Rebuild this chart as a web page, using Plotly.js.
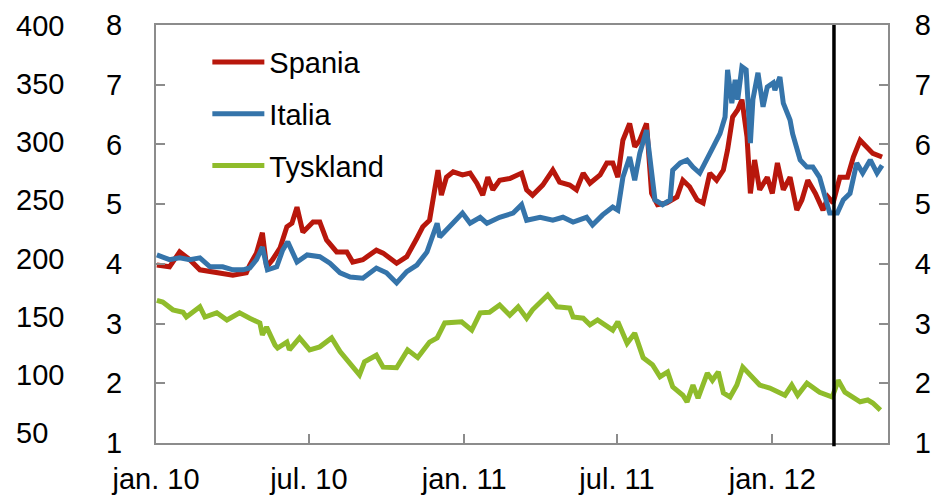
<!DOCTYPE html>
<html>
<head>
<meta charset="utf-8">
<script src="https://cdn.plot.ly/plotly-3.0.1.min.js"></script>
<style>html,body{margin:0;padding:0;background:#fff;}#chart{width:934px;height:497px;}</style>
</head>
<body>
<div id="chart"></div>
<script>
// ---- Data (10-year yields, percent) ----
const spaniaDates = ["2010-01-02","2010-01-17","2010-01-29","2010-02-10","2010-02-22","2010-03-06","2010-03-21","2010-04-02","2010-04-18","2010-04-22","2010-04-30","2010-05-07","2010-05-12","2010-05-19","2010-05-28","2010-06-05","2010-06-11","2010-06-17","2010-06-24","2010-07-06","2010-07-14","2010-07-22","2010-08-03","2010-08-15","2010-08-22","2010-09-03","2010-09-19","2010-09-27","2010-10-13","2010-10-25","2010-11-06","2010-11-13","2010-11-21","2010-11-27","2010-12-01","2010-12-05","2010-12-11","2010-12-19","2010-12-30","2011-01-08","2011-01-16","2011-01-23","2011-01-29","2011-02-04","2011-02-12","2011-02-24","2011-03-10","2011-03-16","2011-03-23","2011-04-04","2011-04-16","2011-04-24","2011-05-06","2011-05-14","2011-05-22","2011-05-30","2011-06-11","2011-06-19","2011-06-26","2011-07-02","2011-07-08","2011-07-16","2011-07-22","2011-07-28","2011-08-05","2011-08-11","2011-08-18","2011-08-29","2011-09-10","2011-09-17","2011-09-25","2011-10-04","2011-10-11","2011-10-19","2011-10-27","2011-11-04","2011-11-09","2011-11-15","2011-11-21","2011-11-26","2011-12-02","2011-12-06","2011-12-11","2011-12-17","2011-12-26","2012-01-01","2012-01-07","2012-01-14","2012-01-22","2012-01-30","2012-02-05","2012-02-12","2012-02-21","2012-03-01","2012-03-07","2012-03-13","2012-03-21","2012-03-30","2012-04-06","2012-04-14","2012-04-22","2012-04-29","2012-05-10"];
const spaniaValues = [3.98,3.95,4.20,4.07,3.90,3.87,3.85,3.81,3.85,3.98,4.18,4.52,3.95,4.07,4.27,4.62,4.68,4.95,4.53,4.70,4.70,4.40,4.20,4.20,4.03,4.07,4.23,4.18,4.01,4.12,4.43,4.62,4.73,5.18,5.57,5.15,5.45,5.54,5.49,5.52,5.35,5.15,5.45,5.24,5.40,5.43,5.52,5.24,5.15,5.32,5.57,5.37,5.32,5.24,5.52,5.35,5.49,5.69,5.69,5.45,6.07,6.35,5.96,6.07,6.35,5.18,4.99,5.02,5.12,5.40,5.29,5.07,5.02,5.52,5.40,5.57,5.91,6.46,6.58,6.75,6.13,5.18,5.74,5.24,5.45,5.18,5.69,5.24,5.45,4.90,5.07,5.40,5.18,4.90,5.12,5.02,5.45,5.45,5.79,6.07,5.96,5.85,5.79];

const italiaDates = ["2010-01-02","2010-01-17","2010-01-29","2010-02-10","2010-02-22","2010-03-06","2010-03-21","2010-04-02","2010-04-14","2010-04-22","2010-04-30","2010-05-07","2010-05-13","2010-05-24","2010-05-31","2010-06-06","2010-06-17","2010-06-29","2010-07-14","2010-07-26","2010-08-07","2010-08-19","2010-09-03","2010-09-19","2010-10-01","2010-10-13","2010-10-25","2010-11-06","2010-11-18","2010-11-30","2010-12-03","2010-12-15","2010-12-30","2011-01-08","2011-01-20","2011-01-28","2011-02-12","2011-02-28","2011-03-10","2011-03-16","2011-04-01","2011-04-16","2011-04-28","2011-05-10","2011-05-26","2011-06-02","2011-06-14","2011-06-26","2011-07-02","2011-07-08","2011-07-16","2011-07-22","2011-07-28","2011-08-05","2011-08-09","2011-08-15","2011-08-24","2011-09-02","2011-09-05","2011-09-14","2011-09-22","2011-09-29","2011-10-07","2011-10-16","2011-10-23","2011-10-31","2011-11-06","2011-11-09","2011-11-14","2011-11-18","2011-11-21","2011-11-26","2011-12-01","2011-12-06","2011-12-09","2011-12-15","2011-12-21","2011-12-26","2012-01-02","2012-01-04","2012-01-10","2012-01-14","2012-01-22","2012-01-25","2012-02-03","2012-02-11","2012-02-18","2012-02-26","2012-03-03","2012-03-09","2012-03-18","2012-03-25","2012-04-02","2012-04-10","2012-04-17","2012-04-26","2012-05-04","2012-05-10"];
const italiaValues = [4.15,4.07,4.10,4.07,4.10,3.95,3.95,3.90,3.90,3.93,4.07,4.28,3.90,3.95,4.23,4.37,4.03,4.15,4.12,4.01,3.85,3.78,3.76,3.93,3.85,3.68,3.87,3.98,4.20,4.68,4.45,4.62,4.85,4.68,4.78,4.68,4.78,4.85,4.99,4.73,4.78,4.73,4.78,4.70,4.78,4.65,4.82,4.95,4.90,5.45,5.79,5.40,5.85,6.24,5.74,5.07,4.99,5.07,5.57,5.69,5.74,5.62,5.52,5.79,5.96,6.18,6.46,7.25,6.69,7.08,6.75,7.30,7.25,6.02,6.75,7.20,6.63,6.96,7.03,6.91,7.13,6.69,6.41,6.18,5.74,5.62,5.62,5.45,5.12,4.85,4.85,5.07,5.18,5.69,5.52,5.74,5.52,5.65];

const tysklandDates = ["2010-01-02","2010-01-09","2010-01-21","2010-02-02","2010-02-06","2010-02-22","2010-02-28","2010-03-14","2010-03-26","2010-04-10","2010-04-22","2010-05-04","2010-05-07","2010-05-12","2010-05-22","2010-05-25","2010-06-05","2010-06-08","2010-06-20","2010-07-02","2010-07-14","2010-07-28","2010-08-07","2010-08-19","2010-08-30","2010-09-05","2010-09-19","2010-09-27","2010-10-13","2010-10-26","2010-11-07","2010-11-21","2010-11-30","2010-12-09","2010-12-19","2010-12-29","2011-01-10","2011-01-20","2011-01-31","2011-02-12","2011-02-24","2011-03-06","2011-03-16","2011-03-23","2011-04-10","2011-04-21","2011-05-06","2011-05-10","2011-05-22","2011-05-30","2011-06-08","2011-06-19","2011-06-26","2011-07-02","2011-07-13","2011-07-22","2011-08-01","2011-08-12","2011-08-21","2011-08-30","2011-09-05","2011-09-17","2011-09-22","2011-09-29","2011-10-05","2011-10-16","2011-10-22","2011-10-29","2011-11-04","2011-11-12","2011-11-20","2011-11-27","2011-12-06","2011-12-17","2011-12-29","2012-01-07","2012-01-16","2012-01-24","2012-01-31","2012-02-11","2012-02-18","2012-02-26","2012-03-12","2012-03-19","2012-03-27","2012-04-06","2012-04-14","2012-04-23","2012-04-29","2012-05-08"];
const tysklandValues = [3.39,3.36,3.23,3.19,3.11,3.28,3.11,3.18,3.06,3.18,3.09,3.01,2.81,2.94,2.64,2.59,2.69,2.56,2.76,2.56,2.61,2.76,2.53,2.31,2.14,2.36,2.47,2.27,2.26,2.56,2.43,2.69,2.76,3.01,3.03,3.03,2.89,3.18,3.19,3.31,3.14,3.28,3.09,3.23,3.48,3.28,3.26,3.11,3.09,2.98,3.06,2.94,2.89,3.03,2.67,2.84,2.43,2.31,2.11,2.19,1.94,1.80,1.69,1.97,1.75,2.17,2.05,2.19,1.84,1.77,1.97,2.27,2.14,1.97,1.92,1.85,1.80,1.97,1.80,2.00,1.92,1.85,1.77,2.05,1.85,1.75,1.69,1.72,1.67,1.55];

const seriesNames = ["Spania", "Italia", "Tyskland"];
const xTickVals = ["2010-01-01", "2010-07-01", "2011-01-01", "2011-07-01", "2012-01-01"];
const xTickText = ["jan. 10", "jul. 10", "jan. 11", "jul. 11", "jan. 12"];
const xRange = ["2010-01-01", "2012-05-17"];
const yTicks = [1, 2, 3, 4, 5, 6, 7, 8];
const bpTicks = [50, 100, 150, 200, 250, 300, 350, 400];
const markerDate = "2012-03-14";

// ---- Styling ----
const FONT = "Liberation Sans, Arial, sans-serif";
const FS = 29;
const GREY = "#8c8c8c";
const colors = ["#b8170c", "#3574aa", "#8fbc2b"];

const traces = [
  {x: spaniaDates, y: spaniaValues, name: seriesNames[0], legendgroup: "a", legendrank: 1},
  {x: italiaDates, y: italiaValues, name: seriesNames[1], legendgroup: "b", legendrank: 2},
  {x: tysklandDates, y: tysklandValues, name: seriesNames[2], legendgroup: "c", legendrank: 3}
].map((t, i) => Object.assign(t, {
  type: "scatter", mode: "lines",
  line: {color: colors[i], width: 5, shape: "linear"},
  hoverinfo: "x+y"
}));

// invisible helper traces so the right-hand and outer left axes get drawn
const helpers = ["y2", "y3"].map(ax => ({
  type: "scatter", mode: "lines", x: spaniaDates, y: spaniaValues, yaxis: ax,
  line: {color: "rgba(0,0,0,0)", width: 0}, showlegend: false, hoverinfo: "skip"
}));

// draw order: Tyskland, Spania, Italia (Italia on top of Spania)
const data = [helpers[0], helpers[1], traces[2], traces[0], traces[1]];

const layout = {
  width: 934, height: 497,
  margin: {l: 0, r: 0, t: 25, b: 54, pad: 0},
  paper_bgcolor: "#fff", plot_bgcolor: "#fff",
  font: {family: FONT, size: FS, color: "#000"},
  showlegend: true,
  legend: {
    x: 0.222, y: 0.972, xanchor: "left", yanchor: "top",
    bgcolor: "rgba(0,0,0,0)", borderwidth: 0,
    font: {family: FONT, size: FS, color: "#000"},
    tracegroupgap: 11, itemwidth: 52, traceorder: "grouped"
  },
  xaxis: {
    type: "date", domain: [156/934, 888/934], range: xRange,
    tickvals: xTickVals, ticktext: xTickText,
    ticks: "inside", ticklen: 9, tickwidth: 2, tickcolor: GREY,
    showline: true, linecolor: GREY, linewidth: 2, mirror: true,
    showgrid: false, zeroline: false, ticklabelstandoff: 9,
    tickfont: {family: FONT, size: FS, color: "#000"}
  },
  yaxis: {
    range: [1, 8], tickvals: yTicks, ticks: "inside", ticklen: 9, tickwidth: 2, tickcolor: GREY,
    showline: true, linecolor: GREY, linewidth: 2,
    showgrid: false, zeroline: false, ticklabelstandoff: 26,
    tickfont: {family: FONT, size: FS, color: "#000"}
  },
  yaxis2: {
    overlaying: "y", side: "right", anchor: "x", range: [1, 8], tickvals: yTicks,
    ticks: "inside", ticklen: 9, tickwidth: 2, tickcolor: GREY,
    showline: true, linecolor: GREY, linewidth: 2,
    showgrid: false, zeroline: false, ticklabelstandoff: 19,
    tickfont: {family: FONT, size: FS, color: "#000"}
  },
  yaxis3: {
    overlaying: "y", side: "right", anchor: "free", position: 0,
    range: [41.5, 400.5], tickvals: bpTicks, ticks: "",
    showline: false, showgrid: false, zeroline: false, ticklabelstandoff: 15,
    tickfont: {family: FONT, size: FS, color: "#000"}
  },
  shapes: [{
    type: "line", xref: "x", yref: "paper", x0: markerDate, x1: markerDate,
    y0: -0.008, y1: 1, line: {color: "#000", width: 3.5}
  }]
};

Plotly.newPlot("chart", data, layout, {staticPlot: true, displayModeBar: false});
</script>
</body>
</html>
